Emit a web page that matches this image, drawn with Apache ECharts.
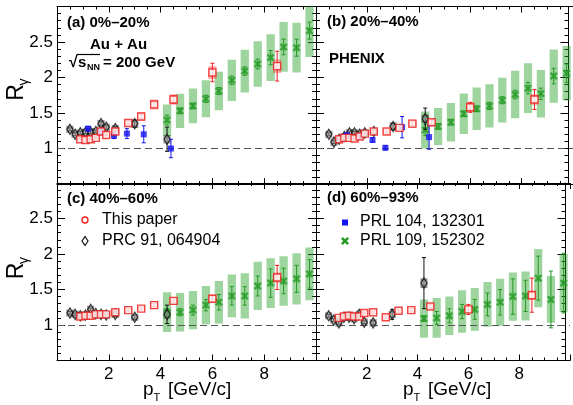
<!DOCTYPE html>
<html>
<head>
<meta charset="utf-8">
<script src="https://cdn.jsdelivr.net/npm/echarts@6/dist/echarts.min.js"></script>
<style>
  html, body { margin: 0; padding: 0; background: #fff; }
  #chart { width: 573px; height: 405px; }
</style>
</head>
<body>
<div id="chart"></div>
<script>
// ---- pT bin centres (GeV/c) ----
const ptRed   = [0.9, 1.1, 1.3, 1.5, 1.7, 1.9, 2.25, 2.75, 3.25, 3.75, 4.5, 6.0, 8.5];
const ptBlack = [0.5, 0.7, 0.9, 1.1, 1.3, 1.5, 1.7, 1.9, 2.25, 3.0, 4.25];
const ptBlue  = [1.2, 1.7, 2.2, 2.7, 3.35, 4.4];
const ptGreen = [4.25, 4.75, 5.25, 5.75, 6.25, 6.75, 7.25, 7.75, 8.25, 8.75, 9.25, 9.75];

// ---- This paper ----
const redA     = [1.13, 1.12, 1.13, 1.15, 1.24, 1.19, 1.24, 1.36, 1.45, 1.62, 1.69, 2.07, 2.16];
const redAStat = [0.01, 0.01, 0.01, 0.01, 0.01, 0.01, 0.015, 0.02, 0.025, 0.03, 0.05, 0.13, 0.21];
const redASys  = [0.045, 0.045, 0.045, 0.045, 0.05, 0.05, 0.05, 0.055, 0.06, 0.07, 0.075, 0.09, 0.095];
const redB     = [1.13, 1.15, 1.15, 1.14, 1.17, 1.21, 1.24, 1.24, 1.29, 1.35, 1.37, 1.58, 1.69];
const redBStat = [0.01, 0.01, 0.01, 0.01, 0.01, 0.01, 0.015, 0.02, 0.02, 0.025, 0.03, 0.07, 0.14];
const redBSys  = [0.045, 0.045, 0.045, 0.045, 0.045, 0.05, 0.05, 0.05, 0.055, 0.06, 0.06, 0.07, 0.075];
const redC     = [1.12, 1.13, 1.13, 1.15, 1.15, 1.15, 1.18, 1.21, 1.23, 1.28, 1.34, 1.37, 1.67];
const redCStat = [0.01, 0.01, 0.01, 0.01, 0.01, 0.01, 0.015, 0.015, 0.02, 0.025, 0.03, 0.04, 0.17];
const redCSys  = [0.045, 0.045, 0.045, 0.045, 0.045, 0.045, 0.045, 0.05, 0.05, 0.055, 0.055, 0.06, 0.07];
const redD     = [1.10, 1.12, 1.13, 1.12, 1.12, 1.17, 1.18, 1.11, 1.20, 1.21, 1.26, 1.22, 1.42];
const redDStat = [0.01, 0.01, 0.01, 0.01, 0.01, 0.01, 0.015, 0.02, 0.02, 0.025, 0.03, 0.07, 0.24];
const redDSys  = [0.045, 0.045, 0.045, 0.045, 0.045, 0.045, 0.045, 0.045, 0.05, 0.05, 0.05, 0.055, 0.065];

// ---- PRC 91, 064904 ----
const blackA     = [1.27, 1.20, 1.22, 1.23, 1.23, 1.24, 1.35, 1.30, 1.28, 1.35, 1.13];
const blackAStat = [0.02, 0.02, 0.02, 0.02, 0.02, 0.02, 0.03, 0.03, 0.03, 0.05, 0.17];
const blackASys  = [0.05, 0.05, 0.05, 0.05, 0.05, 0.05, 0.05, 0.05, 0.05, 0.06, 0.06];
const blackB     = [1.20, 1.09, 1.13, 1.17, 1.22, 1.22, 1.20, 1.22, 1.24, 1.31, 1.42];
const blackBStat = [0.02, 0.02, 0.02, 0.02, 0.02, 0.02, 0.02, 0.02, 0.03, 0.04, 0.15];
const blackBSys  = [0.05, 0.05, 0.05, 0.05, 0.05, 0.05, 0.05, 0.05, 0.05, 0.06, 0.06];
const blackC     = [1.17, 1.15, 1.13, 1.14, 1.22, 1.16, 1.15, 1.14, 1.15, 1.11, 1.15];
const blackCStat = [0.02, 0.02, 0.02, 0.02, 0.02, 0.02, 0.02, 0.02, 0.03, 0.03, 0.13];
const blackCSys  = [0.05, 0.05, 0.05, 0.05, 0.05, 0.05, 0.05, 0.05, 0.05, 0.05, 0.06];
const blackD     = [1.13, 1.07, 1.03, 1.11, 1.11, 1.09, 1.15, 1.04, 1.03, 1.15, 1.59];
const blackDStat = [0.02, 0.02, 0.02, 0.02, 0.02, 0.02, 0.02, 0.02, 0.03, 0.07, 0.36];
const blackDSys  = [0.05, 0.05, 0.05, 0.05, 0.05, 0.05, 0.05, 0.05, 0.05, 0.05, 0.07];

// ---- PRL 104, 132301 ----
const blueA     = [1.28, 1.23, 1.18, 1.21, 1.20, 1.00];
const blueAStat = [0.03, 0.03, 0.04, 0.07, 0.12, 0.13];
const blueB     = [1.19, 1.17, 1.12, 1.01, 1.30, 1.16];
const blueBStat = [0.02, 0.02, 0.03, 0.03, 0.15, 0.17];

// ---- PRL 109, 152302 ----
const greenA     = [1.40, 1.53, 1.60, 1.70, 1.81, 1.96, 2.09, 2.19, 2.28, 2.43, 2.42, 2.66];
const greenAStat = [0.07, 0.04, 0.04, 0.05, 0.05, 0.06, 0.06, 0.07, 0.10, 0.11, 0.12, 0.12];
const greenASys  = [0.22, 0.24, 0.245, 0.26, 0.27, 0.29, 0.30, 0.32, 0.33, 0.35, 0.35, 0.37];
const greenB     = [1.26, 1.31, 1.37, 1.49, 1.56, 1.60, 1.68, 1.76, 1.85, 1.77, 2.02, 2.06];
const greenBStat = [0.08, 0.04, 0.04, 0.04, 0.04, 0.05, 0.05, 0.06, 0.08, 0.08, 0.11, 0.13];
const greenBSys  = [0.26, 0.26, 0.27, 0.285, 0.30, 0.305, 0.315, 0.335, 0.35, 0.335, 0.375, 0.385];
const greenC     = [1.18, 1.18, 1.21, 1.28, 1.32, 1.41, 1.41, 1.55, 1.59, 1.62, 1.65, 1.72];
const greenCStat = [0.05, 0.05, 0.07, 0.08, 0.11, 0.13, 0.13, 0.14, 0.20, 0.18, 0.19, 0.20];
const greenCSys  = [0.28, 0.27, 0.27, 0.27, 0.30, 0.30, 0.32, 0.34, 0.35, 0.35, 0.36, 0.37];
const greenD     = [1.09, 1.10, 1.13, 1.19, 1.22, 1.29, 1.32, 1.40, 1.41, 1.66, 1.36, 1.59];
const greenDStat = [0.04, 0.09, 0.10, 0.10, 0.14, 0.16, 0.18, 0.25, 0.22, 0.31, 0.40, 0.42];
const greenDSys  = [0.27, 0.28, 0.27, 0.30, 0.30, 0.315, 0.33, 0.34, 0.345, 0.41, 0.33, 0.41];

// ---- axis tick labels ----
const xTickLabels = [2, 4, 6, 8];
const yTickLabels = [1, 1.5, 2, 2.5];

// ---- panel headers ----
const panelTitles = ['(a) 0%\u201320%', '(b) 20%\u201340%', '(c) 40%\u201360%', '(d) 60%\u201393%'];

const FONT = '"Liberation Sans", Arial, Helvetica, sans-serif';
const RED = '#ee1c1c', BLUE = '#1414f0', GREEN = '#249a24', BLACK = '#111';
const XMARK = 'path://M0,2.2L2.2,0L5,2.8L7.8,0L10,2.2L7.2,5L10,7.8L7.8,10L5,7.2L2.2,10L0,7.8L2.8,5Z';

const panels = [
  { red: redA, redStat: redAStat, redSys: redASys, black: blackA, blackStat: blackAStat, blackSys: blackASys,
    blue: blueA, blueStat: blueAStat, green: greenA, greenStat: greenAStat, greenSys: greenASys },
  { red: redB, redStat: redBStat, redSys: redBSys, black: blackB, blackStat: blackBStat, blackSys: blackBSys,
    blue: blueB, blueStat: blueBStat, green: greenB, greenStat: greenBStat, greenSys: greenBSys },
  { red: redC, redStat: redCStat, redSys: redCSys, black: blackC, blackStat: blackCStat, blackSys: blackCSys,
    green: greenC, greenStat: greenCStat, greenSys: greenCSys },
  { red: redD, redStat: redDStat, redSys: redDSys, black: blackD, blackStat: blackDStat, blackSys: blackDSys,
    green: greenD, greenStat: greenDStat, greenSys: greenDSys }
];

// 2x2 pad layout
const grids = [
  { left: 57,  top: 6.5, width: 259,   height: 177.5 },
  { left: 316, top: 6.5, width: 260.5, height: 177.5 },
  { left: 57,  top: 183, width: 259,   height: 177.5 },
  { left: 316, top: 183, width: 260.5, height: 177.5 }
];

function xAxisDef(g, position, showLabels) {
  return {
    type: 'value', gridIndex: g, position: position, min: 0, max: 10, interval: 2,
    axisLine: { show: true, onZero: false, lineStyle: { color: '#000', width: 1 } },
    axisTick: { show: true, inside: true, length: 6, lineStyle: { color: '#000', width: 1 } },
    minorTick: { show: true, splitNumber: 4, length: 3, lineStyle: { color: '#000', width: 1 } },
    splitLine: { show: false }, minorSplitLine: { show: false },
    axisLabel: {
      show: showLabels, color: '#000', fontSize: 17, fontFamily: FONT, margin: 5,
      formatter: v => (xTickLabels.indexOf(v) >= 0 ? String(v) : '')
    }
  };
}
function yAxisDef(g, position, showLabels, offset) {
  return {
    type: 'value', gridIndex: g, position: position, offset: offset, min: 0.5, max: 3.0, interval: 0.5,
    axisLine: { show: true, onZero: false, lineStyle: { color: '#000', width: 1 } },
    axisTick: { show: true, inside: true, length: 8, lineStyle: { color: '#000', width: 1 } },
    minorTick: { show: true, splitNumber: 5, length: 4, lineStyle: { color: '#000', width: 1 } },
    splitLine: { show: false }, minorSplitLine: { show: false },
    axisLabel: {
      show: showLabels, color: '#000', fontSize: 17, fontFamily: FONT, margin: 4,
      formatter: v => {
        const k = yTickLabels.findIndex(t => Math.abs(t - v) < 1e-6);
        return k >= 0 ? String(yTickLabels[k]) : '';
      }
    }
  };
}

// systematic-uncertainty boxes (hw = half width in GeV/c)
function boxSeries(g, xs, ys, es, hw, fill, z) {
  return {
    type: 'custom', xAxisIndex: g * 2, yAxisIndex: g * 2, clip: true, silent: true, z: z,
    data: xs.map((x, i) => [x, ys[i], es[i]]),
    renderItem: (params, api) => {
      const x = api.value(0), y = api.value(1), e = api.value(2);
      const a = api.coord([x - hw, y + e]);
      const b = api.coord([x + hw, y - e]);
      return { type: 'rect', shape: { x: a[0], y: a[1], width: b[0] - a[0], height: b[1] - a[1] },
               style: { fill: fill } };
    }
  };
}
// statistical error bars with small end caps
function errSeries(g, xs, ys, es, color, z) {
  return {
    type: 'custom', xAxisIndex: g * 2, yAxisIndex: g * 2, clip: true, silent: true, z: z,
    data: xs.map((x, i) => [x, ys[i], es[i]]),
    renderItem: (params, api) => {
      const x = api.value(0), y = api.value(1), e = api.value(2);
      const t = api.coord([x, y + e]);
      const b = api.coord([x, y - e]);
      const cap = 2;
      const st = { stroke: color, lineWidth: 1 };
      return { type: 'group', children: [
        { type: 'line', shape: { x1: t[0], y1: t[1], x2: b[0], y2: b[1] }, style: st },
        { type: 'line', shape: { x1: t[0] - cap, y1: t[1], x2: t[0] + cap, y2: t[1] }, style: st },
        { type: 'line', shape: { x1: b[0] - cap, y1: b[1], x2: b[0] + cap, y2: b[1] }, style: st }
      ] };
    }
  };
}
function markSeries(g, xs, ys, symbol, size, itemStyle, z, extra) {
  return Object.assign({
    type: 'scatter', xAxisIndex: g * 2, yAxisIndex: g * 2, silent: true, z: z,
    symbol: symbol, symbolSize: size, itemStyle: itemStyle,
    data: xs.map((x, i) => [x, ys[i]])
  }, extra || {});
}

const xAxes = [], yAxes = [], series = [];
panels.forEach((p, g) => {
  const isBottom = g >= 2, isLeft = g % 2 === 0;
  xAxes.push(xAxisDef(g, 'bottom', isBottom));
  xAxes.push(xAxisDef(g, 'top', false));
  yAxes.push(yAxisDef(g, 'left', isLeft, 0));
  yAxes.push(yAxisDef(g, 'right', false, isLeft ? 0 : -4.5));

  series.push(boxSeries(g, ptGreen, p.green, p.greenSys, 0.16, 'rgba(40,160,40,0.45)', 1));
  series.push(boxSeries(g, ptBlack, p.black, p.blackSys, 0.14, 'rgba(0,0,0,0.42)', 2));
  series.push(boxSeries(g, ptRed, p.red, p.redSys, 0.16, 'rgba(255,40,40,0.38)', 2));

  series.push(errSeries(g, ptGreen, p.green, p.greenStat, GREEN, 3));
  series.push(markSeries(g, ptGreen, p.green, XMARK, 8, { color: GREEN }, 4));

  series.push(errSeries(g, ptBlack, p.black, p.blackStat, BLACK, 5));
  series.push(markSeries(g, ptBlack, p.black, 'diamond', [6, 10],
    { color: 'rgba(255,255,255,0.45)', borderColor: BLACK, borderWidth: 1.4 }, 6));

  if (p.blue) {
    series.push(errSeries(g, ptBlue, p.blue, p.blueStat, BLUE, 7));
    series.push(markSeries(g, ptBlue, p.blue, 'rect', 6, { color: BLUE }, 8));
  }

  series.push(errSeries(g, ptRed, p.red, p.redStat, RED, 9));
  series.push(markSeries(g, ptRed, p.red, 'rect', 7,
    { color: '#fff', borderColor: RED, borderWidth: 1.4 }, 10, {
      markLine: {
        silent: true, symbol: ['none', 'none'], label: { show: false },
        lineStyle: { color: '#555', width: 1.2, type: [7, 4] },
        data: [{ yAxis: 1 }]
      }
    }));
});

// ---- text and legend ----
function txt(x, y, s, size, bold, opts) {
  return Object.assign({
    type: 'text', x: x, y: y, silent: true, z: 100,
    style: {
      text: s, fill: '#000', fontSize: size, fontWeight: bold ? 'bold' : 'normal', fontFamily: FONT,
      textAlign: 'left', textVerticalAlign: 'middle', align: 'left', verticalAlign: 'middle'
    }
  }, opts || {});
}
function rtxt(x, y, s, size) {
  const t = txt(x, y, s, size, false, { rotation: Math.PI / 2 });
  t.style.textAlign = 'center'; t.style.align = 'center';
  return t;
}
const graphics = [];
graphics.push(txt(67, 23, panelTitles[0], 15, true));
graphics.push(txt(327, 22, panelTitles[1], 15, true));
graphics.push(txt(67, 199, panelTitles[2], 15, true));
graphics.push(txt(327, 198, panelTitles[3], 15, true));

graphics.push(txt(90, 45, 'Au + Au', 15, true));
graphics.push(txt(69, 63, '\u221A', 16, true));
graphics.push(txt(78, 63, 's', 15, true));
graphics.push(txt(87, 68, 'NN', 9, true));
graphics.push(txt(103, 63, '= 200 GeV', 15, true));
graphics.push({ type: 'line', silent: true, z: 100,
  shape: { x1: 77, y1: 54.5, x2: 100, y2: 54.5 }, style: { stroke: '#000', lineWidth: 1.2 } });

graphics.push(txt(329, 59, 'PHENIX', 15, true));

// legend, panel (c)
graphics.push({ type: 'circle', silent: true, z: 100, shape: { cx: 85, cy: 220, r: 3 },
  style: { fill: '#fff', stroke: RED, lineWidth: 1.3 } });
graphics.push(txt(102, 220, 'This paper', 16, false));
graphics.push({ type: 'polygon', silent: true, z: 100,
  shape: { points: [[85, 236.5], [88, 241], [85, 245.5], [82, 241]] },
  style: { fill: '#fff', stroke: BLACK, lineWidth: 1.2 } });
graphics.push(txt(102, 241, 'PRC 91, 064904', 16, false));
// legend, panel (d)
graphics.push({ type: 'rect', silent: true, z: 100, shape: { x: 342, y: 219.5, width: 6, height: 6 },
  style: { fill: BLUE } });
graphics.push(txt(360, 222, 'PRL 104, 132301', 16, false));
graphics.push({ type: 'polygon', silent: true, z: 100,
  shape: { points: [[341, 238.8], [342.8, 237], [345, 239.2], [347.2, 237], [349, 238.8], [346.8, 241],
                    [349, 243.2], [347.2, 245], [345, 242.8], [342.8, 245], [341, 243.2], [343.2, 241]] },
  style: { fill: GREEN } });
graphics.push(txt(360, 241, 'PRL 109, 152302', 16, false));

// axis titles
graphics.push(rtxt(16.5, 92.5, 'R', 23));
graphics.push(rtxt(24.5, 82, '\u03B3', 14));
graphics.push(rtxt(16.5, 271, 'R', 23));
graphics.push(rtxt(24.5, 260.5, '\u03B3', 14));
[[143, 168], [403, 428]].forEach(([xp, xb]) => {
  graphics.push(txt(xp, 390, 'p', 19, false));
  graphics.push(txt(xp + 10.5, 398, 'T', 11, false));
  graphics.push(txt(xb, 390, '[GeV/c]', 19, false));
});

const chart = echarts.init(document.getElementById('chart'), null, { renderer: 'canvas' });
chart.setOption({
  animation: false,
  backgroundColor: '#fff',
  grid: grids,
  xAxis: xAxes,
  yAxis: yAxes,
  series: series,
  graphic: graphics
});
</script>
</body>
</html>
